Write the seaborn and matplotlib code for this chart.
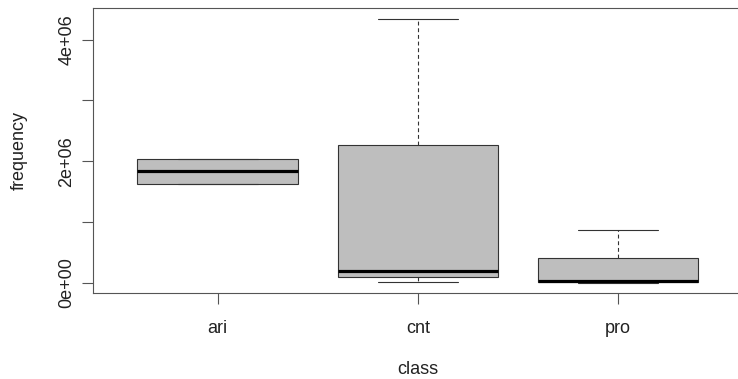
import numpy as np
import pandas as pd
import matplotlib
matplotlib.use("Agg")
import matplotlib.pyplot as plt
import seaborn as sns

# Five-number summaries (min, Q1, median, Q3, max) per class
classes = ["ari", "cnt", "pro"]
ari_freq = [1.63e6, 1.63e6, 1.83e6, 2.04e6, 2.04e6]
cnt_freq = [0.01e6, 0.10e6, 0.19e6, 2.27e6, 4.345e6]
pro_freq = [0.0e6, 0.01e6, 0.03e6, 0.41e6, 0.875e6]
y_ticks = [0, 1e6, 2e6, 3e6, 4e6]
y_tick_labels = ["0e+00", "", "2e+06", "", "4e+06"]

df = pd.DataFrame({
    "class": np.repeat(classes, 5),
    "frequency": ari_freq + cnt_freq + pro_freq,
})

sns.set_style("white")
plt.rcParams["font.family"] = ["Liberation Sans", "DejaVu Sans"]

W, H = 738, 379
fig = plt.figure(figsize=(W / 100, H / 100), dpi=100)
left, right, top, bottom = 93.4, 742.5, 8.0, 293.3
ax = fig.add_axes([left / W, 1 - bottom / H, (right - left) / W, (bottom - top) / H])

line_col = "#333333"
sns.boxplot(
    data=df, x="class", y="frequency", ax=ax,
    color="#bebebe", saturation=1, width=0.8, whis=1.5,
    linecolor=line_col, linewidth=0.8,
    medianprops=dict(color="black", linewidth=2.3),
    whiskerprops=dict(linestyle=(0, (3.5, 2.5)), color=line_col, linewidth=0.8),
    capprops=dict(color=line_col, linewidth=0.8),
    showfliers=False,
)

# Axis limits extended by 4% like the classic boxplot frame
vals = df["frequency"].to_numpy()
rng = vals.max() - vals.min()
ax.set_ylim(vals.min() - 0.04 * rng, vals.max() + 0.04 * rng)
ax.set_xlim(-0.5 - 0.12, 2.5 + 0.12)

ax.set_yticks(y_ticks)
ax.set_yticklabels(y_tick_labels, rotation=90, va="center")
ax.set_xticks(range(len(classes)))
ax.set_xticklabels(classes)

for s in ax.spines.values():
    s.set_visible(True)
    s.set_color("#555555")
    s.set_linewidth(0.8)

ax.tick_params(axis="both", direction="out", length=8, width=0.8, color="#555555",
               labelsize=13, labelcolor="#222222", left=True, bottom=True)
ax.tick_params(axis="y", pad=5)
ax.tick_params(axis="x", pad=11)

ax.set_xlabel("class", fontsize=13, color="#222222", labelpad=17.5)
ax.set_ylabel("frequency", fontsize=13, color="#222222", labelpad=22)

fig.savefig("out.png", dpi=100)
